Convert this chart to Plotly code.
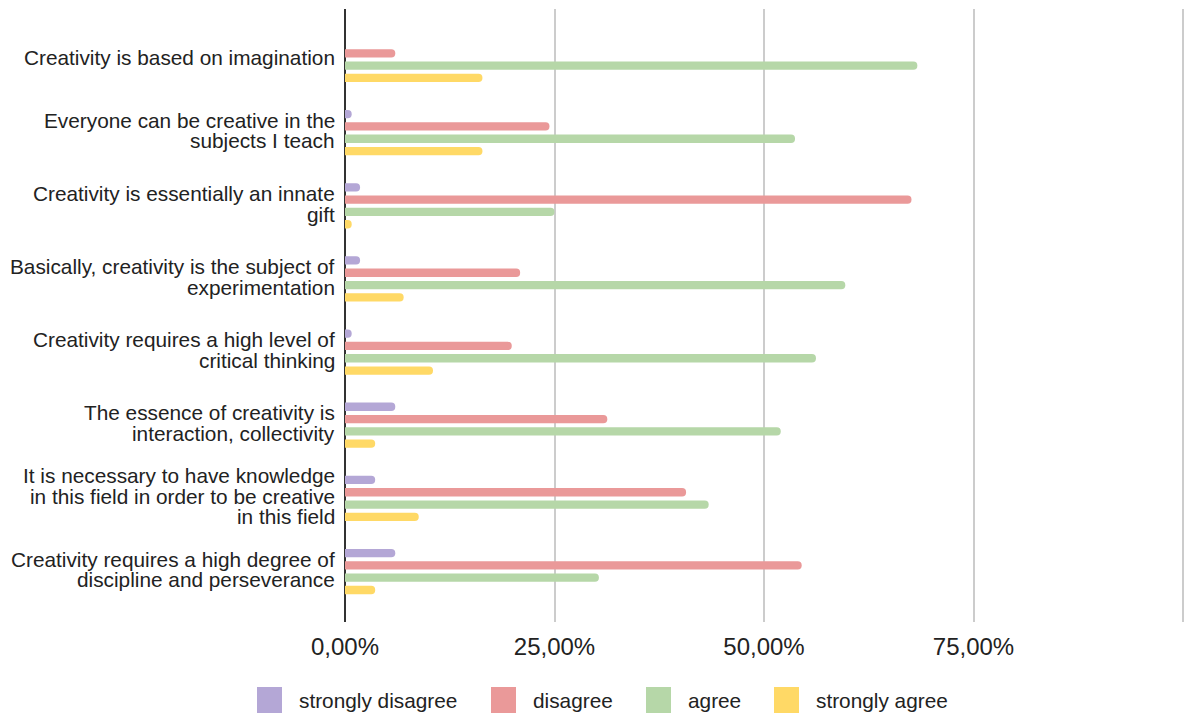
import plotly.graph_objects as go

categories = [
    "Creativity is based on imagination",
    "Everyone can be creative in the<br>subjects I teach",
    "Creativity is essentially an innate<br>gift",
    "Basically, creativity is the subject of<br>experimentation",
    "Creativity requires a high level of<br>critical thinking",
    "The essence of creativity is<br>interaction, collectivity",
    "It is necessary to have knowledge<br>in this field in order to be creative<br>in this field",
    "Creativity requires a high degree of<br>discipline and perseverance",
]
series_names = ["strongly disagree", "disagree", "agree", "strongly agree"]
strongly_disagree = [0.0, 0.8, 1.8, 1.8, 0.8, 6.0, 3.6, 6.0]
disagree = [6.0, 24.4, 67.6, 20.9, 19.9, 31.3, 40.7, 54.5]
agree = [68.3, 53.7, 25.0, 59.7, 56.2, 52.0, 43.4, 30.3]
strongly_agree = [16.4, 16.4, 0.8, 7.0, 10.5, 3.6, 8.8, 3.6]
tick_values = [0, 25, 50, 75, 100]
tick_labels = ["0,00%", "25,00%", "50,00%", "75,00%", ""]

colors = ["#b4a7d6", "#ea9999", "#b6d7a8", "#ffd966"]
series = [strongly_disagree, disagree, agree, strongly_agree]

W, H = 1184, 716
L, R, T, B = 345, 0, 9, 94
FONT = "Arial, Liberation Sans, sans-serif"
TXT = "#222222"

fig = go.Figure()
for name, vals, col in zip(series_names, series, colors):
    fig.add_trace(go.Bar(
        y=categories, x=vals, name=name, orientation="h",
        marker=dict(color=col, line=dict(width=0), cornerradius="50%"),
        showlegend=False, hoverinfo="x+name",
    ))

# category labels, one annotation per line for tight line spacing
annotations = []
line_h = 20.5
for cat in categories:
    lines = cat.split("<br>")
    n = len(lines)
    for i, ln in enumerate(lines):
        annotations.append(dict(
            xref="paper", yref="y", x=0, y=cat, xshift=-8,
            yshift=((n - 1) / 2 - i) * line_h + 2,
            text=ln, showarrow=False, xanchor="right", yanchor="middle",
            font=dict(family=FONT, size=20.8, color=TXT),
        ))

# manual legend
plot_w = W - L - R
plot_h = H - T - B
def px(xp):
    return (xp - L) / plot_w
def py(yp):
    return (H - B - yp) / plot_h

legend_sq_x = [257, 491, 646, 774]
shapes = []
for name, col, sx in zip(series_names, colors, legend_sq_x):
    shapes.append(dict(
        type="rect", xref="paper", yref="paper",
        x0=px(sx), x1=px(sx + 25), y0=py(713), y1=py(687),
        fillcolor=col, line=dict(width=0), layer="above",
    ))
    annotations.append(dict(
        xref="paper", yref="paper", x=px(sx + 40), y=py(700),
        text=name, showarrow=False, xanchor="left", yanchor="middle",
        font=dict(family=FONT, size=20.8, color=TXT),
    ))

# gridline at 100% (at the right edge of the plot area)
shapes.append(dict(
    type="line", xref="x", yref="paper", x0=100, x1=100, y0=0, y1=1,
    line=dict(color="#cccccc", width=2), layer="below",
))

fig.update_layout(
    width=W, height=H,
    margin=dict(l=L, r=R, t=T, b=B, pad=0),
    paper_bgcolor="white", plot_bgcolor="white",
    barmode="group", bargap=0.327, bargroupgap=0.325,
    font=dict(family=FONT, color=TXT),
    showlegend=False,
    xaxis=dict(
        range=[0, plot_w / 8.38], tickvals=tick_values, ticktext=tick_labels,
        showgrid=True, gridcolor="#cccccc", gridwidth=2,
        zeroline=True, zerolinecolor="#333333", zerolinewidth=2,
        showline=False, ticks="", tickfont=dict(family=FONT, size=24, color=TXT),
        ticklabelstandoff=8, fixedrange=True,
    ),
    yaxis=dict(
        type="category", categoryorder="array", categoryarray=categories,
        range=[7.69, -0.69], showticklabels=False, showgrid=False,
        zeroline=False, showline=False, ticks="", fixedrange=True,
    ),
    annotations=annotations,
    shapes=shapes,
)

fig.write_html("out.html")
